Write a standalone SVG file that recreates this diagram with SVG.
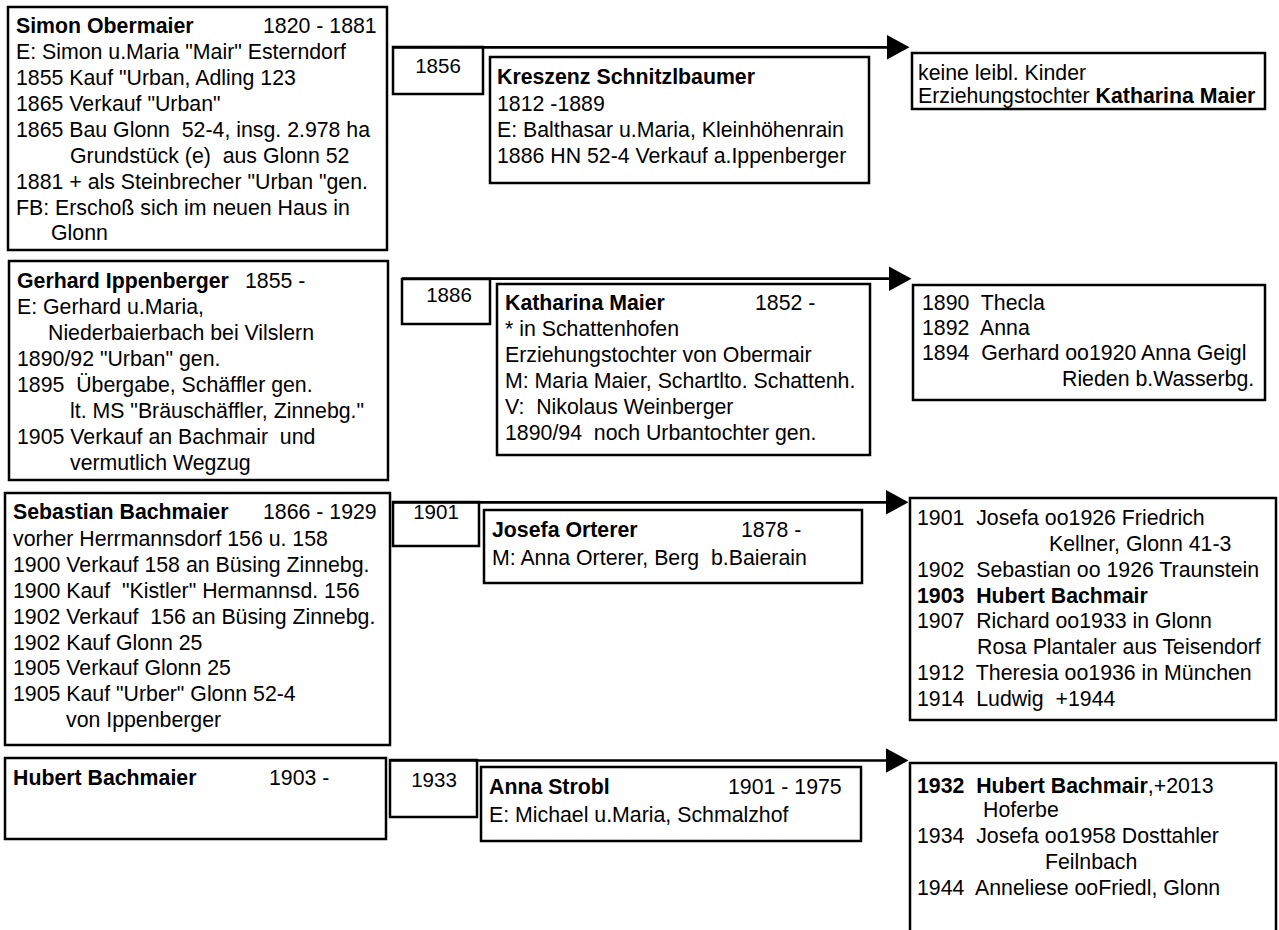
<svg xmlns="http://www.w3.org/2000/svg" width="1279" height="930" viewBox="0 0 1279 930" xml:space="preserve">
<defs>
<style>
.box{fill:#fff;stroke:#000;stroke-width:2.5}
.t{font-family:"Liberation Sans",Arial,sans-serif;font-size:21.3px;fill:#000;white-space:pre}
.b{font-weight:bold}
.yr{font-family:"Liberation Sans",Arial,sans-serif;font-size:20.5px;fill:#000;text-anchor:middle}
.ln{fill:none;stroke:#000;stroke-width:2.7}
</style>
<marker id="ah" markerUnits="userSpaceOnUse" markerWidth="24" markerHeight="26" refX="0.5" refY="12.5" orient="auto">
<path d="M0,0 L23,12.5 L0,25 Z" fill="#000"/>
</marker>
</defs>
<rect width="1279" height="930" fill="#fff"/>

<g id="simon">
<rect class="box" x="8" y="7" width="379" height="243"/>
<text class="t b" x="16" y="33">Simon Obermaier</text>
<text class="t" x="263" y="33">1820 - 1881</text>
<text class="t" x="16" y="59">E: Simon u.Maria "Mair" Esterndorf</text>
<text class="t" x="16" y="85">1855 Kauf "Urban, Adling 123</text>
<text class="t" x="16" y="111">1865 Verkauf "Urban"</text>
<text class="t" x="16" y="137" xml:space="preserve">1865 Bau Glonn  52-4, insg. 2.978 ha</text>
<text class="t" x="70" y="163" xml:space="preserve">Grundstück (e)  aus Glonn 52</text>
<text class="t" x="16" y="189">1881 + als Steinbrecher "Urban "gen.</text>
<text class="t" x="16" y="215">FB: Erschoß sich im neuen Haus in</text>
<text class="t" x="51" y="240">Glonn</text>
</g>

<g id="year1856">
<rect class="box" x="393" y="47" width="90" height="47"/>
<text class="yr" x="438" y="73">1856</text>
</g>

<g id="kreszenz">
<rect class="box" x="490" y="57" width="379" height="126"/>
<text class="t b" x="497" y="84">Kreszenz Schnitzlbaumer</text>
<text class="t" x="497" y="111">1812 -1889</text>
<text class="t" x="497" y="137">E: Balthasar u.Maria, Kleinhöhenrain</text>
<text class="t" x="497" y="163">1886 HN 52-4 Verkauf a.Ippenberger</text>
</g>

<g id="kinder1">
<rect class="box" x="912" y="53" width="353" height="56"/>
<text class="t" x="918" y="80">keine leibl. Kinder</text>
<text class="t" x="918" y="103" xml:space="preserve">Erziehungstochter <tspan class="b">Katharina Maier</tspan></text>
</g>

<g id="gerhard">
<rect class="box" x="9" y="261" width="379" height="219"/>
<text class="t b" x="17" y="288">Gerhard Ippenberger</text>
<text class="t" x="245" y="288">1855 -</text>
<text class="t" x="17" y="314">E: Gerhard u.Maria,</text>
<text class="t" x="48" y="340">Niederbaierbach bei Vilslern</text>
<text class="t" x="17" y="366">1890/92 "Urban" gen.</text>
<text class="t" x="17" y="392" xml:space="preserve">1895  Übergabe, Schäffler gen.</text>
<text class="t" x="70" y="418">lt. MS "Bräuschäffler, Zinnebg."</text>
<text class="t" x="17" y="444" xml:space="preserve">1905 Verkauf an Bachmair  und</text>
<text class="t" x="70" y="470">vermutlich Wegzug</text>
</g>

<g id="year1886">
<rect class="box" x="402" y="279" width="88" height="45"/>
<text class="yr" x="449" y="302">1886</text>
</g>

<g id="katharina">
<rect class="box" x="497" y="284" width="373" height="171"/>
<text class="t b" x="505" y="310">Katharina Maier</text>
<text class="t" x="755" y="310">1852 -</text>
<text class="t" x="505" y="336">* in Schattenhofen</text>
<text class="t" x="505" y="362">Erziehungstochter von Obermair</text>
<text class="t" x="505" y="388">M: Maria Maier, Schartlto. Schattenh.</text>
<text class="t" x="505" y="414" xml:space="preserve">V:  Nikolaus Weinberger</text>
<text class="t" x="505" y="440" xml:space="preserve">1890/94  noch Urbantochter gen.</text>
</g>

<g id="kinder2">
<rect class="box" x="913" y="285" width="352" height="115"/>
<text class="t" x="922" y="310" xml:space="preserve">1890  Thecla</text>
<text class="t" x="922" y="335" xml:space="preserve">1892  Anna</text>
<text class="t" x="922" y="360" xml:space="preserve">1894  Gerhard oo1920 Anna Geigl</text>
<text class="t" x="1062" y="386">Rieden b.Wasserbg.</text>
</g>

<g id="sebastian">
<rect class="box" x="5" y="493" width="385" height="252"/>
<text class="t b" x="13" y="519">Sebastian Bachmaier</text>
<text class="t" x="263" y="519">1866 - 1929</text>
<text class="t" x="13" y="546">vorher Herrmannsdorf 156 u. 158</text>
<text class="t" x="13" y="572">1900 Verkauf 158 an Büsing Zinnebg.</text>
<text class="t" x="13" y="598" xml:space="preserve">1900 Kauf  "Kistler" Hermannsd. 156</text>
<text class="t" x="13" y="624" xml:space="preserve">1902 Verkauf  156 an Büsing Zinnebg.</text>
<text class="t" x="13" y="650">1902 Kauf Glonn 25</text>
<text class="t" x="13" y="675">1905 Verkauf Glonn 25</text>
<text class="t" x="13" y="701">1905 Kauf "Urber" Glonn 52-4</text>
<text class="t" x="66" y="727">von Ippenberger</text>
</g>

<g id="year1901">
<rect class="box" x="393" y="502" width="86" height="44"/>
<text class="yr" x="436" y="519">1901</text>
</g>

<g id="josefa">
<rect class="box" x="484" y="510" width="378" height="73"/>
<text class="t b" x="492" y="537">Josefa Orterer</text>
<text class="t" x="741" y="537">1878 -</text>
<text class="t" x="492" y="565" xml:space="preserve">M: Anna Orterer, Berg  b.Baierain</text>
</g>

<g id="kinder3">
<rect class="box" x="910" y="498" width="366" height="222"/>
<text class="t" x="917" y="525" xml:space="preserve">1901  Josefa oo1926 Friedrich</text>
<text class="t" x="1049" y="551">Kellner, Glonn 41-3</text>
<text class="t" x="917" y="577" xml:space="preserve">1902  Sebastian oo 1926 Traunstein</text>
<text class="t b" x="917" y="603" xml:space="preserve">1903  Hubert Bachmair</text>
<text class="t" x="917" y="628" xml:space="preserve">1907  Richard oo1933 in Glonn</text>
<text class="t" x="977" y="654">Rosa Plantaler aus Teisendorf</text>
<text class="t" x="917" y="680" xml:space="preserve">1912  Theresia oo1936 in München</text>
<text class="t" x="917" y="706" xml:space="preserve">1914  Ludwig  +1944</text>
</g>

<g id="hubert">
<rect class="box" x="5" y="758" width="381" height="81"/>
<text class="t b" x="13" y="785">Hubert Bachmaier</text>
<text class="t" x="269" y="785">1903 -</text>
</g>

<g id="year1933">
<rect class="box" x="390" y="760" width="87" height="57"/>
<text class="yr" x="434" y="787">1933</text>
</g>

<g id="anna">
<rect class="box" x="481" y="767" width="380" height="74"/>
<text class="t b" x="489" y="794">Anna Strobl</text>
<text class="t" x="728" y="794">1901 - 1975</text>
<text class="t" x="489" y="822">E: Michael u.Maria, Schmalzhof</text>
</g>

<g id="kinder4">
<rect class="box" x="910" y="763" width="366" height="180"/>
<text class="t" x="917" y="793" xml:space="preserve"><tspan class="b">1932  Hubert Bachmair</tspan>,+2013</text>
<text class="t" x="983" y="817">Hoferbe</text>
<text class="t" x="917" y="843" xml:space="preserve">1934  Josefa oo1958 Dosttahler</text>
<text class="t" x="1045" y="869">Feilnbach</text>
<text class="t" x="917" y="895" xml:space="preserve">1944  Anneliese ooFriedl, Glonn</text>
</g>

<g id="connectors">
<line class="ln" x1="393" y1="47.3" x2="887" y2="47.3" marker-end="url(#ah)"/>
<line class="ln" x1="402" y1="278.7" x2="889" y2="278.7" marker-end="url(#ah)"/>
<line class="ln" x1="393" y1="502.3" x2="886" y2="502.3" marker-end="url(#ah)"/>
<line class="ln" x1="390" y1="760.5" x2="886" y2="760.5" marker-end="url(#ah)"/>
</g>
</svg>
